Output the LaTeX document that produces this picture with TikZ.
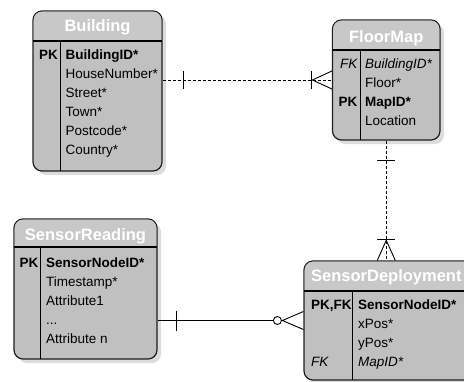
\documentclass[tikz,border=0pt]{standalone}
\usepackage{fontspec}
\setmainfont{Liberation Sans}
\usepackage{tikz}
\usetikzlibrary{calc,shadows}

\definecolor{boxfill}{HTML}{C0C0C0}
\definecolor{headfill}{HTML}{C8C8C8}
\definecolor{shadowgray}{HTML}{DCDCDC}
\definecolor{edgegray}{HTML}{1E1E1E}

\tikzset{
  entity/.style={draw=edgegray, line width=1.2pt, fill=boxfill, rounded corners=9pt,
    inner sep=0pt, drop shadow={shadow xshift=4pt, shadow yshift=-4pt, fill=shadowgray, opacity=1}},
  sepline/.style={draw=black, line width=1.4pt},
  title/.style={font=\bfseries\fontsize{16.5}{18}\selectfont, text=white, inner sep=0pt, anchor=base},
  attr/.style={font=\fontsize{13.5}{15}\selectfont, inner sep=0pt, anchor=base west},
  keytag/.style={font=\bfseries\fontsize{13.5}{15}\selectfont, inner sep=0pt},
  relline/.style={draw=black, line width=0.9pt},
  reldash/.style={relline, dash pattern=on 3pt off 2pt}
}

\begin{document}
\begin{tikzpicture}[x=1pt,y=-1pt]
\useasboundingbox (0,0) rectangle (464,381);
\clip (0,0) rectangle (464,381);

% Building
\node[entity, minimum width=129pt, minimum height=160pt] (building) at (97.5,91) {};
\fill[headfill] (33.6,41) [rounded corners=8.4pt] -- (33.6,11.6) -- (161.4,11.6) [sharp corners] -- (161.4,41) -- cycle;
\draw[sepline] (33,41) -- (162,41);
\draw[sepline] (60.5,41) -- (60.5,171);
\node[title] (b-title) at (97.5,31) {Building};
\node[keytag, anchor=base west] (b-pk) at (39,59) {PK};
\node[attr, font=\bfseries\fontsize{13.5}{15}\selectfont] (b-1) at (65.5,59) {BuildingID*};
\node[attr] (b-2) at (65.5,78) {HouseNumber*};
\node[attr] (b-3) at (65.5,97) {Street*};
\node[attr] (b-4) at (65.5,116) {Town*};
\node[attr] (b-5) at (65.5,135) {Postcode*};
\node[attr] (b-6) at (65.5,154) {Country*};

% FloorMap
\node[entity, minimum width=107.5pt, minimum height=120pt] (floormap) at (386.25,80) {};
\fill[headfill] (333.1,50) [rounded corners=8.4pt] -- (333.1,20.6) -- (439.4,20.6) [sharp corners] -- (439.4,50) -- cycle;
\draw[sepline] (332.5,50) -- (440,50);
\draw[sepline] (360.5,50) -- (360.5,140);
\node[title] (f-title) at (386.25,42) {FloorMap};
\node[keytag, anchor=base east, font=\itshape\fontsize{13.5}{15}\selectfont] (f-fk) at (357.5,68) {FK};
\node[keytag, anchor=base east] (f-pk) at (357.5,106) {PK};
\node[attr, font=\itshape\fontsize{13.5}{15}\selectfont] (f-1) at (365,68) {BuildingID*};
\node[attr] (f-2) at (365,87) {Floor*};
\node[attr, font=\bfseries\fontsize{13.5}{15}\selectfont] (f-3) at (365,106) {MapID*};
\node[attr] (f-4) at (365,125) {Location};

% SensorReading
\node[entity, minimum width=143pt, minimum height=140pt] (reading) at (85.5,289) {};
\fill[headfill] (14.6,247) [rounded corners=8.4pt] -- (14.6,219.6) -- (156.4,219.6) [sharp corners] -- (156.4,247) -- cycle;
\draw[sepline] (14,247) -- (157,247);
\draw[sepline] (40.5,247) -- (40.5,359);
\node[title] (r-title) at (85.5,240) {SensorReading};
\node[keytag, anchor=base west] (r-pk) at (19.5,267) {PK};
\node[attr, font=\bfseries\fontsize{13.5}{15}\selectfont] (r-1) at (46,267) {SensorNodeID*};
\node[attr] (r-2) at (46,286) {Timestamp*};
\node[attr] (r-3) at (46,305) {Attribute1};
\node[attr] (r-4) at (46,324) {...};
\node[attr] (r-5) at (46,343) {Attribute n};

% SensorDeployment
\node[entity, minimum width=172pt, minimum height=119pt] (deploy) at (390,320.5) {};
\fill[headfill] (304.6,291) [rounded corners=8.4pt] -- (304.6,261.6) -- (475.4,261.6) [sharp corners] -- (475.4,291) -- cycle;
\draw[sepline] (304,291) -- (476,291);
\draw[sepline] (352.5,291) -- (352.5,380);
\node[title, anchor=base west] (d-title) at (311,281) {SensorDeployment};
\node[keytag, anchor=base west] (d-pk) at (311,309) {PK,FK};
\node[keytag, anchor=base west, font=\itshape\fontsize{13.5}{15}\selectfont] (d-fk) at (311,366) {FK};
\node[attr, font=\bfseries\fontsize{13.5}{15}\selectfont] (d-1) at (358,309) {SensorNodeID*};
\node[attr] (d-2) at (358,328) {xPos*};
\node[attr] (d-3) at (358,347) {yPos*};
\node[attr, font=\itshape\fontsize{13.5}{15}\selectfont] (d-4) at (358,366) {MapID*};

% Building -- FloorMap
\draw[reldash] (building.east |- floormap.west) -- (floormap.west);
\draw[relline] ($(building.east |- floormap.west)+(21,-9)$) -- ++(0,18);
\draw[relline] ($(floormap.west)+(0,-9)$) -- ++(-19.5,9) -- ++(19.5,9);
\draw[relline] ($(floormap.west)+(-20,-9)$) -- ++(0,18);

% FloorMap -- SensorDeployment
\draw[reldash] (floormap.south) -- (floormap.south |- deploy.north);
\draw[relline] ($(floormap.south)+(-9,20)$) -- ++(18,0);
\draw[relline] ($(floormap.south |- deploy.north)+(-9,0)$) -- ++(9,-20) -- ++(9,20);
\draw[relline] ($(floormap.south |- deploy.north)+(-9,-21)$) -- ++(18,0);

% SensorReading -- SensorDeployment
\draw[relline] (reading.east |- deploy.west) -- ($(deploy.west)+(-30,0)$);
\draw[relline] ($(reading.east |- deploy.west)+(19,-10)$) -- ++(0,20);
\draw[relline] ($(deploy.west)+(-26,0)$) circle (4pt);
\draw[relline] ($(deploy.west)+(0,-9)$) -- ++(-21,9) -- ++(21,9);
\end{tikzpicture}
\end{document}
